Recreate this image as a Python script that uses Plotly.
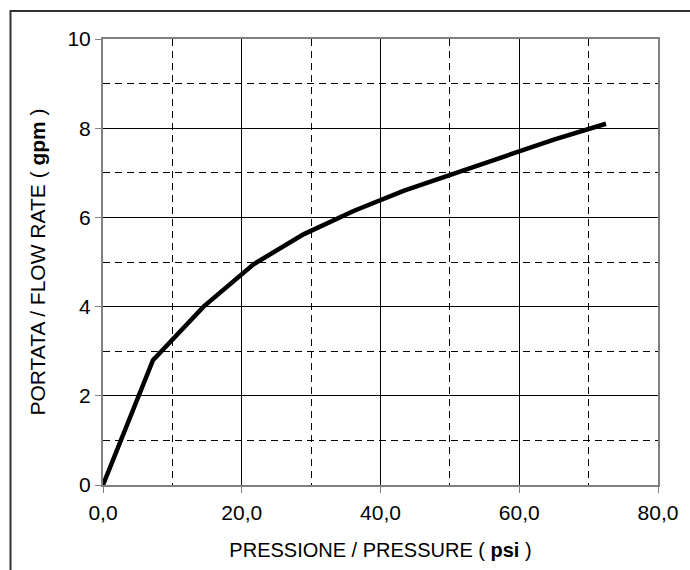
import plotly.graph_objects as go

pressure_psi = [0, 7.2, 14.5, 21.7, 28.9, 36.2, 43.4, 50.6, 57.9, 65.1, 72.5]
flow_gpm = [0, 2.8, 4.0, 4.95, 5.62, 6.15, 6.6, 6.98, 7.38, 7.75, 8.1]

x_tickvals = [0, 20, 40, 60, 80]
x_ticktext = ["0,0", "20,0", "40,0", "60,0", "80,0"]
y_tickvals = [0, 2, 4, 6, 8, 10]
y_ticktext = ["0", "2", "4", "6", "8", "10"]

fig = go.Figure()
fig.add_trace(go.Scatter(x=pressure_psi, y=flow_gpm, mode="lines",
                         line=dict(color="black", width=4.5), showlegend=False))

fam = "Liberation Sans, Arial, sans-serif"
tick_font = dict(family=fam, size=21, color="black")

axis_common = dict(
    showline=True, linecolor="#808080", linewidth=2, mirror=True,
    ticks="outside", ticklen=6, tickcolor="#808080", tickwidth=1,
    showgrid=True, gridcolor="black", gridwidth=1,
    zeroline=False, tickfont=tick_font,
)

fig.update_xaxes(
    range=[0, 80], tickmode="array", tickvals=x_tickvals, ticktext=x_ticktext,
    minor=dict(dtick=10, showgrid=True, gridcolor="black", griddash="7px,5px", gridwidth=1, ticks=""),
    title=dict(text="PRESSIONE / PRESSURE ( <b>psi</b> )",
               font=dict(family=fam, size=20, color="black"), standoff=20),
    ticklabelstandoff=2,
    **axis_common,
)
fig.update_yaxes(
    range=[0, 10], tickmode="array", tickvals=y_tickvals, ticktext=y_ticktext,
    minor=dict(dtick=1, showgrid=True, gridcolor="black", griddash="7px,5px", gridwidth=1, ticks=""),
    title=dict(text="PORTATA / FLOW RATE ( <b>gpm</b> )",
               font=dict(family=fam, size=21, color="black"), standoff=16),
    **axis_common,
)

fig.add_shape(type="rect", xref="paper", yref="paper",
              x0=(10 - 103) / 558, x1=(720 - 103) / 558,
              y0=(486 - 600) / 447, y1=(486 - 11) / 447,
              line=dict(color="#333333", width=2), fillcolor="rgba(0,0,0,0)", layer="above")

fig.update_layout(
    width=690, height=570,
    margin=dict(l=103, r=29, t=39, b=84),
    paper_bgcolor="white", plot_bgcolor="white",
    font=tick_font,
)

fig.write_html("out.html", config={"displayModeBar": False},
               post_script="document.body.style.margin='0';document.body.style.overflow='hidden';")
